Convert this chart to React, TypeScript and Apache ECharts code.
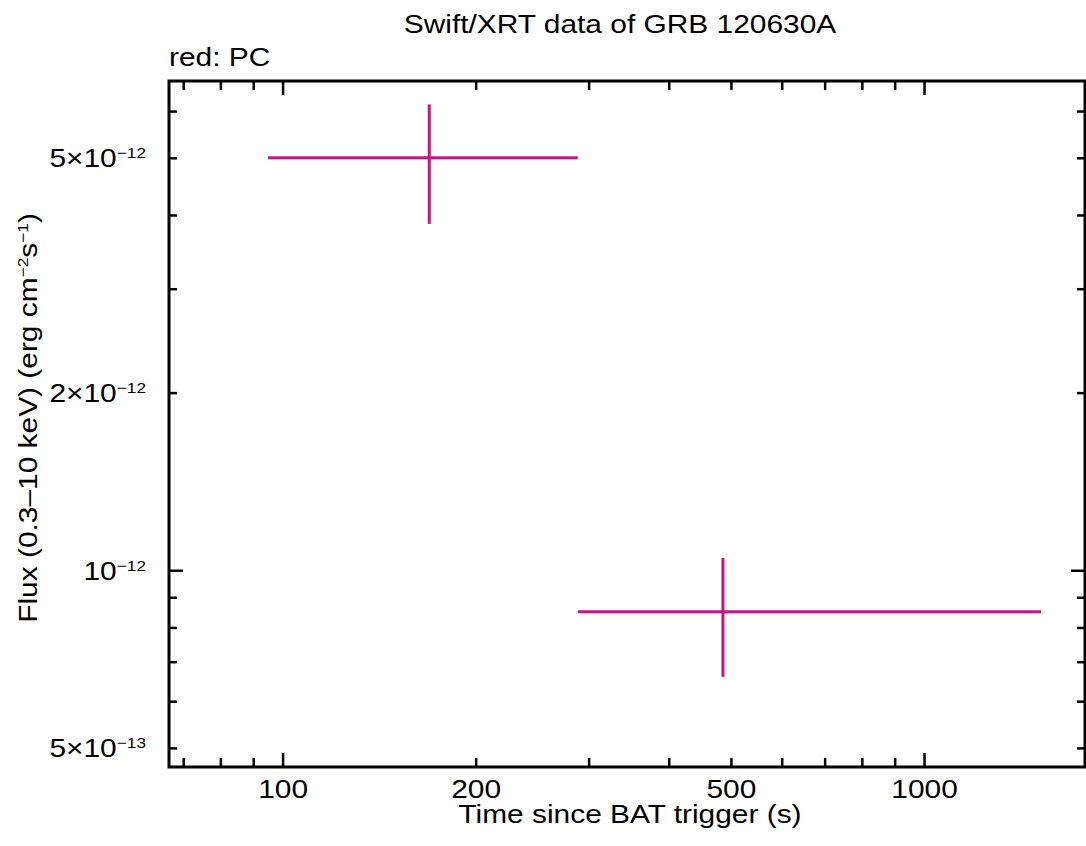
import React, { useEffect, useRef } from 'react';
import * as echarts from 'echarts';

// ---- data ----
const timeMid = [169, 485];
const timeLo = [94.7, 288];
const timeHi = [288, 1519];
const fluxMid = [5.01e-12, 8.52e-13];
const fluxLo = [3.87e-12, 6.61e-13];
const fluxHi = [6.17e-12, 1.051e-12];

// axis ranges
const xMin = 66.4;
const xMax = 1779;
const yMin = 4.65e-13;
const yMax = 6.76e-12;

// ticks
const xTickValues = [70, 80, 90, 100, 200, 300, 400, 500, 600, 700, 800, 900, 1000];
const xMajorTicks = [100, 1000];
const xTickLabels = [100, 200, 500, 1000];

const yTickValues = [5e-13, 6e-13, 7e-13, 8e-13, 9e-13, 1e-12, 2e-12, 3e-12, 4e-12, 5e-12, 6e-12];
const yMajorTicks = [1e-12];
const yTickLabelValues = [5e-13, 1e-12, 2e-12, 5e-12];
const yTickLabelMantissa = ['5×10', '10', '2×10', '5×10'];
const yTickLabelExponent = ['−13', '−12', '−12', '−12'];

const FONT_FAMILY = "'Liberation Sans', Arial, Helvetica, sans-serif";
const FONT = `26px ${FONT_FAMILY}`;
const STRETCH = 1.15;
const MAGENTA = '#c71585';

export default function App() {
  const ref = useRef<HTMLDivElement>(null);

  useEffect(() => {
    if (!ref.current) return;
    const chart = echarts.init(ref.current, undefined, { renderer: 'svg' });

    const tickStyle = { stroke: '#000', lineWidth: 2.5 };

    const option: any = {
      animation: false,
      backgroundColor: '#fff',
      grid: {
        left: 169,
        top: 81,
        right: 1,
        bottom: 79,
        show: true,
        borderColor: '#000',
        borderWidth: 3,
        backgroundColor: 'transparent',
      },
      xAxis: {
        type: 'log',
        logBase: 10,
        min: xMin,
        max: xMax,
        axisLine: { show: false },
        axisTick: { show: false },
        axisLabel: { show: false },
        splitLine: { show: false },
        minorTick: { show: false },
      },
      yAxis: {
        type: 'log',
        logBase: 10,
        min: yMin,
        max: yMax,
        axisLine: { show: false },
        axisTick: { show: false },
        axisLabel: { show: false },
        splitLine: { show: false },
        minorTick: { show: false },
      },
      graphic: [
        {
          type: 'text',
          x: 620,
          y: 24,
          scaleX: STRETCH,
          style: {
            text: 'Swift/XRT data of GRB 120630A',
            font: FONT,
            fill: '#000',
            align: 'center',
            verticalAlign: 'middle',
          },
        },
        {
          type: 'text',
          x: 169,
          y: 57,
          scaleX: STRETCH,
          style: {
            text: 'red: PC',
            font: FONT,
            fill: '#000',
            align: 'left',
            verticalAlign: 'middle',
          },
        },
        {
          type: 'text',
          x: 630,
          y: 814,
          scaleX: STRETCH,
          style: {
            text: 'Time since BAT trigger (s)',
            font: FONT,
            fill: '#000',
            align: 'center',
            verticalAlign: 'middle',
          },
        },
        {
          type: 'text',
          x: 28,
          y: 418,
          rotation: Math.PI / 2,
          scaleX: STRETCH,
          style: {
            text: 'Flux (0.3–10 keV) (erg cm{s|−2}s{s|−1})',
            font: FONT,
            fill: '#000',
            align: 'center',
            verticalAlign: 'middle',
            rich: {
              s: {
                fontSize: 15,
                fontFamily: FONT_FAMILY,
                fill: '#000',
                lineHeight: 15,
                verticalAlign: 'top',
              },
            },
          },
        },
      ],
      series: [
        // x ticks (bottom and top)
        {
          type: 'custom',
          coordinateSystem: 'cartesian2d',
          silent: true,
          data: xTickValues.map((v) => [v, yMin]),
          renderItem: (params: any, api: any) => {
            const cs = params.coordSys;
            const v = xTickValues[params.dataIndex];
            const px = api.coord([v, yMin])[0];
            const len = xMajorTicks.includes(v) ? 14 : 9;
            const top = cs.y;
            const bottom = cs.y + cs.height;
            return {
              type: 'group',
              children: [
                { type: 'line', shape: { x1: px, y1: bottom, x2: px, y2: bottom - len }, style: tickStyle },
                { type: 'line', shape: { x1: px, y1: top, x2: px, y2: top + len }, style: tickStyle },
              ],
            };
          },
        },
        // y ticks (left and right)
        {
          type: 'custom',
          coordinateSystem: 'cartesian2d',
          silent: true,
          data: yTickValues.map((v) => [xMin, v]),
          renderItem: (params: any, api: any) => {
            const cs = params.coordSys;
            const v = yTickValues[params.dataIndex];
            const py = api.coord([xMin, v])[1];
            const len = yMajorTicks.includes(v) ? 14 : 8;
            const left = cs.x;
            const right = cs.x + cs.width;
            return {
              type: 'group',
              children: [
                { type: 'line', shape: { x1: left, y1: py, x2: left + len, y2: py }, style: tickStyle },
                { type: 'line', shape: { x1: right, y1: py, x2: right - len, y2: py }, style: tickStyle },
              ],
            };
          },
        },
        // x tick labels
        {
          type: 'custom',
          coordinateSystem: 'cartesian2d',
          silent: true,
          data: xTickLabels.map((v) => [v, yMin]),
          renderItem: (params: any, api: any) => {
            const cs = params.coordSys;
            const v = xTickLabels[params.dataIndex];
            const px = api.coord([v, yMin])[0];
            return {
              type: 'text',
              x: px,
              y: cs.y + cs.height + 22,
              scaleX: STRETCH,
              style: {
                text: String(v),
                font: FONT,
                fill: '#000',
                align: 'center',
                verticalAlign: 'middle',
              },
            };
          },
        },
        // y tick labels
        {
          type: 'custom',
          coordinateSystem: 'cartesian2d',
          silent: true,
          data: yTickLabelValues.map((v) => [xMin, v]),
          renderItem: (params: any, api: any) => {
            const cs = params.coordSys;
            const i = params.dataIndex;
            const py = api.coord([xMin, yTickLabelValues[i]])[1];
            return {
              type: 'text',
              x: cs.x - 23,
              y: py,
              scaleX: STRETCH,
              style: {
                text: `{a|${yTickLabelMantissa[i]}}{s|${yTickLabelExponent[i]}}`,
                font: FONT,
                fill: '#000',
                align: 'right',
                verticalAlign: 'middle',
                rich: {
                  a: { fontSize: 26, fontFamily: FONT_FAMILY, fill: '#000', lineHeight: 26 },
                  s: { fontSize: 15, fontFamily: FONT_FAMILY, fill: '#000', lineHeight: 15, verticalAlign: 'top' },
                },
              },
            };
          },
        },
        // data error bars
        {
          type: 'custom',
          coordinateSystem: 'cartesian2d',
          name: 'PC',
          data: timeMid.map((t, i) => [t, fluxMid[i], timeLo[i], timeHi[i], fluxLo[i], fluxHi[i]]),
          renderItem: (params: any, api: any) => {
            const x = api.value(0);
            const y = api.value(1);
            const l = api.coord([api.value(2), y]);
            const r = api.coord([api.value(3), y]);
            const b = api.coord([x, api.value(4)]);
            const t = api.coord([x, api.value(5)]);
            const st = { stroke: MAGENTA, lineWidth: 3 };
            return {
              type: 'group',
              children: [
                { type: 'line', shape: { x1: l[0], y1: l[1], x2: r[0], y2: r[1] }, style: st },
                { type: 'line', shape: { x1: t[0], y1: t[1], x2: b[0], y2: b[1] }, style: st },
              ],
            };
          },
        },
      ],
    };

    chart.setOption(option);
    return () => {
      chart.dispose();
    };
  }, []);

  return (
    <div
      ref={ref}
      style={{ position: 'fixed', left: 0, top: 0, width: 1086, height: 846, background: '#fff' }}
    />
  );
}
